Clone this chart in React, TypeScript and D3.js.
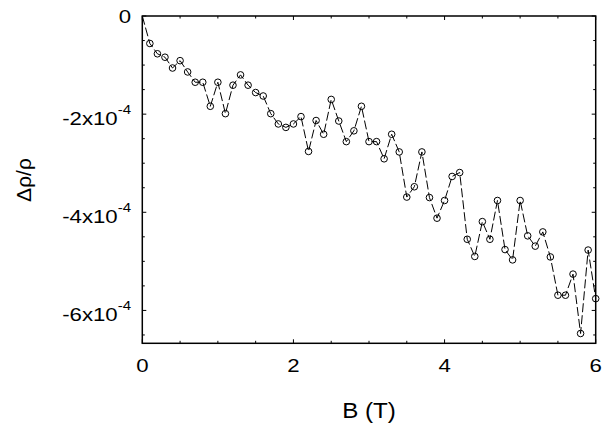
import React from "react";
import * as d3 from "d3";

// magnetic field (T)
const fieldB = [
  0, 0.1, 0.2, 0.3, 0.4, 0.5, 0.6, 0.7, 0.8, 0.9,
  1.0, 1.1, 1.2, 1.3, 1.4, 1.5, 1.6, 1.7, 1.8, 1.9,
  2.0, 2.1, 2.2, 2.3, 2.4, 2.5, 2.6, 2.7, 2.8, 2.9,
  3.0, 3.1, 3.2, 3.3, 3.4, 3.5, 3.6, 3.7, 3.8, 3.9,
  4.0, 4.1, 4.2, 4.3, 4.4, 4.5, 4.6, 4.7, 4.8, 4.9,
  5.0, 5.1, 5.2, 5.3, 5.4, 5.5, 5.6, 5.7, 5.8, 5.9,
  6.0,
];

// delta rho / rho, in units of 1e-4
const dRhoRho = [
  0, -0.56, -0.77, -0.84, -1.06, -0.91, -1.14, -1.35, -1.35, -1.84,
  -1.35, -1.99, -1.41, -1.2, -1.41, -1.56, -1.63, -1.99, -2.2, -2.27,
  -2.2, -2.05, -2.76, -2.13, -2.41, -1.7, -2.14, -2.56, -2.34, -1.84,
  -2.56, -2.56, -2.91, -2.41, -2.77, -3.69, -3.48, -2.77, -3.7, -4.12,
  -3.76, -3.27, -3.19, -4.55, -4.9, -4.19, -4.55, -3.76, -4.76, -4.97,
  -3.76, -4.48, -4.69, -4.4, -4.91, -5.69, -5.69, -5.26, -6.47, -4.77,
  -5.76,
];

const xMajorTicks = [0, 2, 4, 6];
const yMajorTicks = [0, -2, -4, -6];
const yMinLimit = -6.67;

const W = 603;
const H = 431;
const FONT = "'Liberation Sans', Arial, Helvetica, sans-serif";

export default function App() {
  const x = d3.scaleLinear().domain([0, 6]).range([142.3, 595.7]);
  const y = d3.scaleLinear().domain([yMinLimit, 0]).range([343.3, 16]);
  const [x0, x1] = x.range();
  const [y0, y1] = y.range();

  const pts = fieldB.map((b, i) => ({ b, v: dRhoRho[i] }));
  const line = d3
    .line<{ b: number; v: number }>()
    .x((d) => x(d.b))
    .y((d) => y(d.v));

  const xMinor = d3.range(0, 6.001, 0.5);
  const yMinor = d3.range(0, yMinLimit, -0.5);

  const major = 4;
  const minor = 2.5;

  return (
    <svg
      width={W}
      height={H}
      style={{ position: "absolute", left: 0, top: 0, background: "#fff" }}
      fontFamily={FONT}
    >
      <rect x={0} y={0} width={W} height={H} fill="#fff" />

      {/* ticks on all four sides, pointing inward */}
      <g stroke="#000" strokeWidth={1}>
        {xMinor.map((t) => {
          const len = xMajorTicks.includes(t) ? major : minor;
          return (
            <g key={"xt" + t}>
              <line x1={x(t)} x2={x(t)} y1={y0} y2={y0 - len} />
              <line x1={x(t)} x2={x(t)} y1={y1} y2={y1 + len} />
            </g>
          );
        })}
        {yMinor.map((t) => {
          const len = yMajorTicks.includes(t) ? major : minor;
          return (
            <g key={"yt" + t}>
              <line x1={x0} x2={x0 + len} y1={y(t)} y2={y(t)} />
              <line x1={x1} x2={x1 - len} y1={y(t)} y2={y(t)} />
            </g>
          );
        })}
      </g>

      {/* frame */}
      <rect
        x={x0}
        y={y1}
        width={x1 - x0}
        height={y0 - y1}
        fill="none"
        stroke="#000"
        strokeWidth={1.5}
      />

      {/* data */}
      <path
        d={line(pts) || ""}
        fill="none"
        stroke="#000"
        strokeWidth={1}
        strokeDasharray="9,3"
      />
      {pts.slice(1).map((d, i) => (
        <circle
          key={i}
          cx={x(d.b)}
          cy={y(d.v)}
          r={3.3}
          fill="none"
          stroke="#000"
          strokeWidth={1}
        />
      ))}

      {/* x tick labels */}
      {xMajorTicks.map((t) => (
        <text
          key={"xl" + t}
          transform={`translate(${x(t)},372) scale(1.2,1)`}
          textAnchor="middle"
          fontSize={18.5}
          fill="#000"
        >
          {t}
        </text>
      ))}

      {/* y tick labels */}
      {yMajorTicks.map((t) =>
        t === 0 ? (
          <text
            key={"yl" + t}
            transform={`translate(131,${y(t) + 6.5}) scale(1.2,1)`}
            textAnchor="end"
            fontSize={18.5}
            fill="#000"
          >
            0
          </text>
        ) : (
          <text
            key={"yl" + t}
            transform={`translate(131,${y(t) + 11}) scale(1.2,1)`}
            textAnchor="end"
            fontSize={18.5}
            fill="#000"
          >
            <tspan>{`${t}x10`}</tspan>
            <tspan dy={-11} fontSize={12.5}>
              -4
            </tspan>
          </text>
        )
      )}

      {/* axis titles */}
      <text
        transform={`translate(${(x0 + x1) / 2},418) scale(1.1,1)`}
        textAnchor="middle"
        fontSize={22}
        fill="#000"
      >
        B (T)
      </text>
      <text
        transform={`translate(31,180) rotate(-90)`}
        textAnchor="middle"
        fontSize={21}
        fill="#000"
      >
        Δρ/ρ
      </text>
    </svg>
  );
}
